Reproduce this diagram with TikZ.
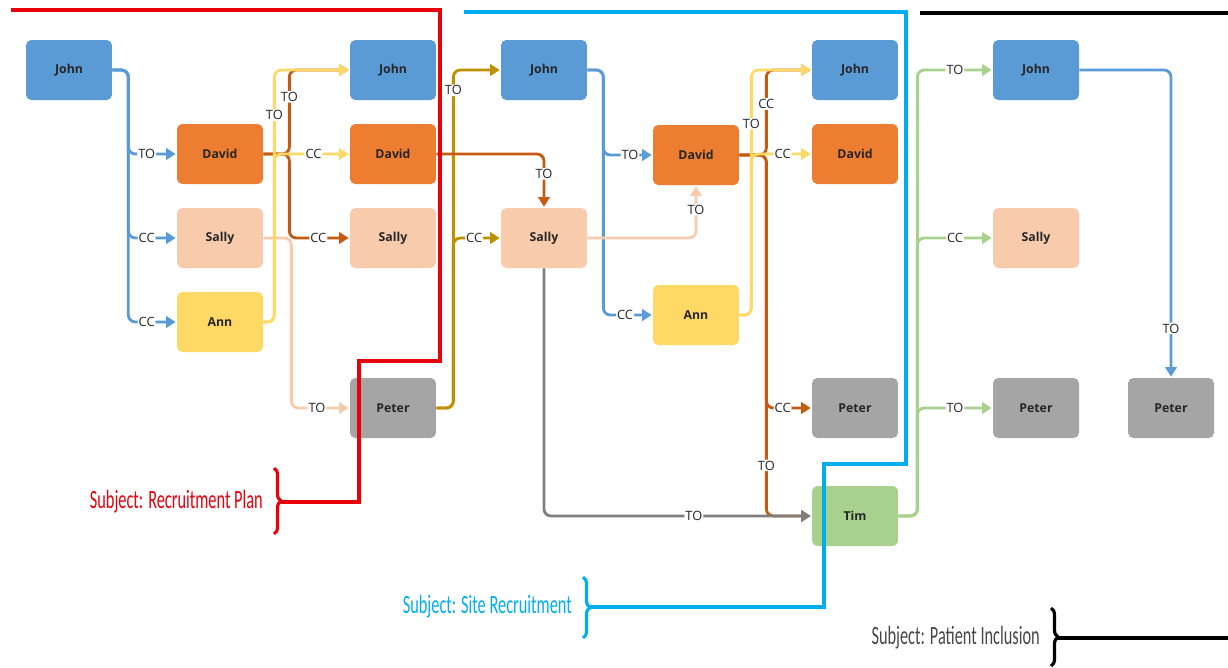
\documentclass[tikz,border=0pt]{standalone}
\usepackage{fontspec}
\setmainfont{Open Sans}
\newfontfamily\subjfont[FakeStretch=0.62]{Carlito}
\usetikzlibrary{arrows.meta,decorations.pathreplacing}
\definecolor{cblue}{HTML}{5B9BD5}
\definecolor{corange}{HTML}{ED7D31}
\definecolor{cdorange}{HTML}{C55A11}
\definecolor{cpeach}{HTML}{F8CBAD}
\definecolor{cyellow}{HTML}{FFD966}
\definecolor{cgold}{HTML}{BF9000}
\definecolor{cgrey}{HTML}{A5A5A5}
\definecolor{cdgrey}{HTML}{7F7F7F}
\definecolor{cgreen}{HTML}{A9D18E}
\definecolor{cred}{HTML}{E8000B}
\definecolor{ccyan}{HTML}{00AEEF}
\definecolor{ctxt}{HTML}{262626}
\tikzset{
  box/.style={rounded corners=3pt,minimum width=1.72cm,minimum height=1.2cm,inner sep=0pt,text=ctxt,font=\bfseries\fontsize{7}{8}\selectfont},
  lnk/.style={-{Triangle[length=5.5pt,width=6.5pt]},line width=1.6pt,rounded corners=4pt,shorten >=0.5pt},
  lbl/.style={fill=white,inner sep=0.6pt,text=ctxt,font=\fontsize{7.3}{8}\selectfont},
  subj/.style={line width=1.8pt},
  brc/.style={subj,decorate,decoration={brace,amplitude=4pt}},
  subjtxt/.style={anchor=east,font=\subjfont\fontsize{15}{16}\selectfont},
}
\begin{document}
\begin{tikzpicture}[x=0.02cm,y=-0.02cm]
  \useasboundingbox (0,0) rectangle (1228,667);
  \node[box,fill=cblue] (j1) at (69,70) {John};
  \node[box,fill=corange] (d2) at (220,154) {David};
  \node[box,fill=cpeach] (s2) at (220,238) {Sally};
  \node[box,fill=cyellow] (a2) at (220,322) {Ann};
  \node[box,fill=cblue] (j3) at (393,70) {John};
  \node[box,fill=corange] (d3) at (393,154) {David};
  \node[box,fill=cpeach] (s3) at (393,238) {Sally};
  \node[box,fill=cgrey] (p3) at (393,408) {Peter};
  \node[box,fill=cblue] (j4) at (544,70) {John};
  \node[box,fill=cpeach] (s4) at (544,238) {Sally};
  \node[box,fill=corange] (d5) at (696,155) {David};
  \node[box,fill=cyellow] (a5) at (696,315) {Ann};
  \node[box,fill=cblue] (j6) at (855,70) {John};
  \node[box,fill=corange] (d6) at (855,154) {David};
  \node[box,fill=cgrey] (p6) at (855,408) {Peter};
  \node[box,fill=cgreen] (t6) at (855,516) {Tim};
  \node[box,fill=cblue] (j7) at (1036,70) {John};
  \node[box,fill=cpeach] (s7) at (1036,238) {Sally};
  \node[box,fill=cgrey] (p7) at (1036,408) {Peter};
  \node[box,fill=cgrey] (p8) at (1171,408) {Peter};

  \draw[lnk,cblue] (j1.east) -- ++(16,0) |- node[lbl,pos=0.69]{TO} (d2.west);
  \draw[lnk,cblue] (j1.east) -- ++(16,0) |- node[lbl,pos=0.69]{CC} (s2.west);
  \draw[lnk,cblue] (j1.east) -- ++(16,0) |- node[lbl,pos=0.69]{CC} (a2.west);
  \draw[lnk,cpeach] (s2.east) -- ++(28,0) |- node[lbl,pos=0.72]{TO} (p3.west);
  \draw[lnk,cdorange] (d2.east) -- ++(26,0) |- node[lbl,pos=0.34]{TO} (j3.west);
  \draw[lnk,cdorange] (d2.east) -- ++(26,0) |- node[lbl,pos=0.74]{CC} (s3.west);
  \draw[lnk,cyellow] (a2.east) -- ++(11,0) |- node[lbl,pos=0.41]{TO} (j3.west);
  \draw[lnk,cyellow] (a2.east) -- ++(11,0) |- node[lbl,pos=0.76]{CC} (d3.west);

  \draw[lnk,cgold] (p3.east) -- ++(17,0) |- node[lbl,pos=0.47]{TO} (j4.west);
  \draw[lnk,cgold] (p3.east) -- ++(17,0) |- node[lbl,pos=0.72]{CC} (s4.west);
  \draw[lnk,cdorange] (d3.east) -| node[lbl,pos=0.685]{TO} (s4.north);

  \draw[lnk,cblue] (j4.east) -- ++(16,0) |- node[lbl,pos=0.77]{TO} (d5.west);
  \draw[lnk,cblue] (j4.east) -- ++(16,0) |- node[lbl,pos=0.72]{CC} (a5.west);
  \draw[lnk,cpeach] (s4.east) -| node[lbl,pos=0.77]{TO} (d5.south);
  \draw[lnk,cdorange] (d5.east) -- ++(27,0) |- node[lbl,pos=0.3]{CC} (j6.west);
  \draw[lnk,cdorange] (d5.east) -- ++(27,0) |- node[lbl,pos=0.68]{CC} (p6.west);
  \draw[lnk,cdorange] (d5.east) -- ++(27,0) |- node[lbl,pos=0.43]{TO} (t6.west);
  \draw[lnk,cdgrey] (s4.south) |- node[lbl,pos=0.78]{TO} (t6.west);
  \draw[lnk,cyellow] (a5.east) -- ++(12,0) |- node[lbl,pos=0.39]{TO} (j6.west);
  \draw[lnk,cyellow] (a5.east) -- ++(12,0) |- node[lbl,pos=0.76]{CC} (d6.west);

  \draw[lnk,cgreen] (t6.east) -- ++(19,0) |- node[lbl,pos=0.75]{TO} (j7.west);
  \draw[lnk,cgreen] (t6.east) -- ++(19,0) |- node[lbl,pos=0.75]{CC} (s7.west);
  \draw[lnk,cgreen] (t6.east) -- ++(19,0) |- node[lbl,pos=0.75]{TO} (p7.west);
  \draw[lnk,cblue] (j7.east) -| node[lbl,pos=0.92]{TO} (p8.north);

  \draw[subj,cred] (11,10) -| (440,361) -| (359,502) -- (281,502);
  \draw[brc,cred] (274,468) -- (274,534);
  \node[subjtxt,cred] (rp) at (269,502) {Subject: Recruitment Plan};
  \draw[subj,ccyan] (464,12) -| (906,464) -| (824,607) -- (590,607);
  \draw[brc,ccyan] (583,577) -- (583,638);
  \node[subjtxt,ccyan] (sr) at (578,607) {Subject: Site Recruitment};
  \draw[subj,black] (920,13) -- (1228,13);
  \draw[brc,black] (1051,608) -- (1051,666);
  \draw[subj,black] (1058,638) -- (1228,638);
  \node[subjtxt,text=ctxt!85] (pi) at (1046,638) {Subject: Patient Inclusion};
\end{tikzpicture}
\end{document}
